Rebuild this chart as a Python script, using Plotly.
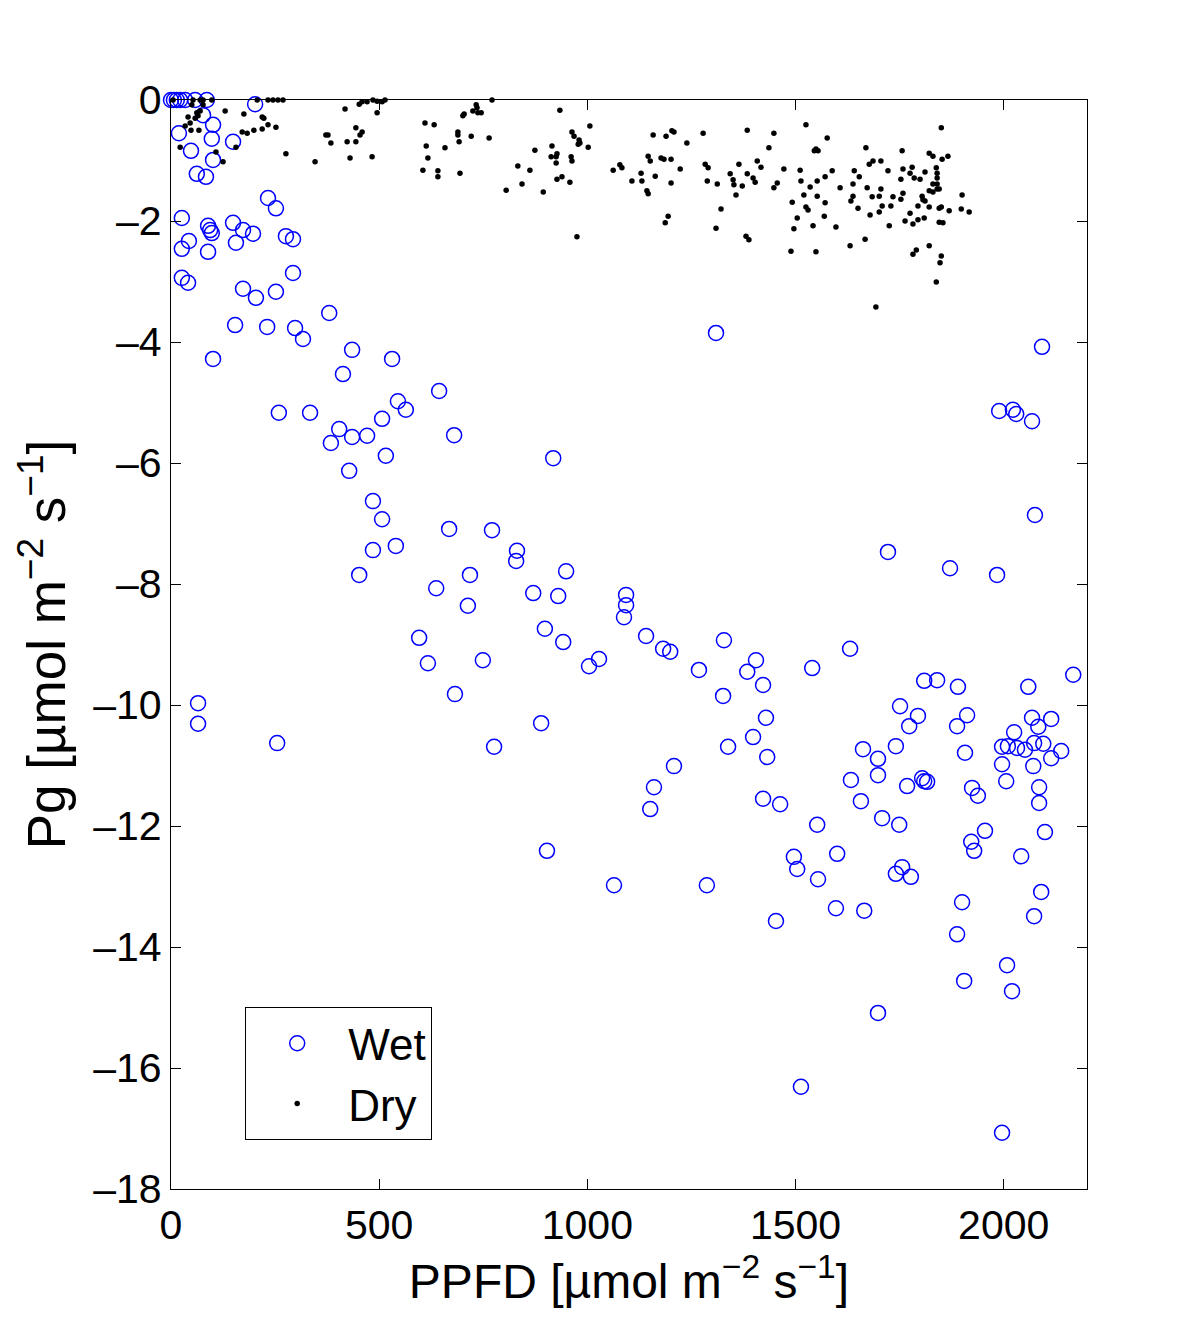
import plotly.graph_objects as go

# Wet conditions: PPFD vs gross photosynthesis
wet_ppfd = [0, 7, 14, 22, 34, 58, 86, 202, 77, 101, 19, 98, 149, 48, 101, 62, 84, 233, 252, 26,
            89, 94, 98, 149, 173, 197, 43, 26, 89, 156, 276, 293, 293, 26, 41, 173, 204, 252, 380, 154,
            231, 298, 317, 435, 531, 101, 413, 644, 545, 564, 259, 334, 507, 404, 435, 471, 384, 680, 516, 428,
            918, 485, 507, 485, 540, 452, 637, 668, 771, 831, 829, 718, 949, 870, 930, 1093, 1093, 1088, 713, 596,
            617, 749, 682, 898, 942, 1004, 1028, 1141, 1182, 1199, 1268, 1328, 1405, 1384, 1422, 1326, 1429, 1398, 1338, 1432,
            889, 776, 1208, 1160, 1151, 1422, 1463, 903, 1064, 1287, 1496, 1504, 1309, 2092, 1989, 2022, 2030, 2068, 2075, 1722,
            1871, 1984, 1540, 1631, 1809, 1840, 1890, 2059, 2167, 1751, 1794, 1773, 1888, 1912, 2068, 2114, 2083, 2025, 2073, 2095,
            1996, 2010, 2032, 2051, 2138, 2114, 1996, 2071, 1907, 1741, 1662, 1698, 1698, 1633, 1804, 1809, 1816, 1768, 2006, 1924,
            1938, 2085, 2085, 1657, 1708, 1749, 1552, 1955, 1922, 1929, 2099, 2042, 1600, 1554, 1756, 1741, 1777, 1900, 2090, 1597,
            1665, 1453, 2073, 1888, 2008, 1905, 2020, 1698, 1513, 1996, 65, 65, 255]
wet_pg = [0, 0, 0, 0, 0, 0, 0, -0.07, -0.25, -0.41, -0.55, -0.64, -0.69, -0.84, -0.99, -1.22, -1.27, -1.62, -1.79, -1.95,
          -2.08, -2.15, -2.20, -2.03, -2.15, -2.21, -2.33, -2.46, -2.51, -2.36, -2.25, -2.30, -2.86, -2.94, -3.02, -3.12, -3.27, -3.17, -3.52, -3.72,
          -3.75, -3.77, -3.95, -4.13, -4.28, -4.28, -4.53, -4.81, -4.98, -5.12, -5.17, -5.17, -5.27, -5.44, -5.57, -5.55, -5.67, -5.54, -5.88, -6.13,
          -5.92, -6.63, -6.93, -7.44, -7.37, -7.85, -8.07, -7.09, -7.11, -7.45, -7.62, -7.85, -7.79, -8.15, -8.20, -8.18, -8.35, -8.55, -8.36, -8.89,
          -9.31, -9.26, -9.82, -8.74, -8.96, -9.36, -9.24, -8.86, -9.07, -9.12, -9.42, -8.93, -9.26, -9.45, -9.67, -9.85, -10.21, -10.53, -10.69, -10.86,
          -10.30, -10.69, -11.01, -11.36, -11.72, -11.55, -11.64, -12.41, -12.98, -12.98, -12.51, -12.71, -3.85, -4.08, -5.14, -5.12, -5.19, -5.31, -6.86, -7.47,
          -7.74, -7.85, -9.39, -9.07, -9.60, -9.59, -9.70, -9.70, -9.50, -10.02, -10.18, -10.35, -10.35, -10.17, -10.21, -10.23, -10.36, -10.45, -10.63, -10.64,
          -10.69, -10.68, -10.71, -10.74, -10.76, -10.88, -10.98, -11.01, -10.79, -10.68, -10.73, -10.89, -11.16, -11.24, -11.21, -11.26, -11.27, -11.34, -11.26, -11.37,
          -11.50, -11.36, -11.62, -11.59, -11.87, -11.98, -11.98, -12.08, -12.26, -12.41, -12.10, -12.50, -12.46, -12.88, -12.68, -12.79, -12.84, -13.26, -13.09, -13.36,
          -13.40, -13.57, -13.49, -13.79, -14.30, -14.56, -14.73, -15.09, -16.31, -17.07, -9.97, -10.31, -10.63]

# Dry conditions
dry_ppfd = [5, 53, 70, 77, 98, 50, 77, 62, 70, 58, 65, 41, 34, 46, 48, 67, 22, 108, 125, 130,
            175, 207, 219, 223, 233, 252, 171, 183, 199, 219, 156, 233, 245, 257, 269, 276, 346, 372, 377, 384,
            418, 423, 430, 444, 444, 454, 459, 452, 459, 471, 485, 495, 507, 514, 495, 483, 610, 632, 613, 617,
            658, 605, 641, 641, 694, 689, 689, 692, 721, 764, 701, 704, 733, 735, 725, 737, 745, 771, 934, 1006,
            1002, 963, 968, 980, 982, 978, 915, 927, 925, 913, 874, 961, 963, 925, 833, 862, 939, 927, 958, 843,
            805, 894, 975, 1062, 1078, 1083, 1107, 1129, 1131, 1143, 1146, 1146, 1151, 1158, 1163, 1177, 1184, 1189, 1203, 1208,
            1201, 1201, 1194, 1187, 1223, 1239, 1278, 1283, 1290, 1288, 1312, 1321, 1309, 1343, 1350, 1352, 1372, 1357, 1364, 1384,
            1384, 1398, 1403, 1408, 1417, 1436, 1448, 1448, 1456, 1381, 1388, 1472, 1492, 1489, 1496, 1504, 1511, 1513, 1520, 1525,
            1525, 1530, 1535, 1542, 1545, 1549, 1554, 1549, 1552, 1552, 1569, 1571, 1571, 1576, 1588, 1597, 1607, 1631, 1633, 1638,
            1638, 1641, 1650, 1653, 1667, 1669, 1672, 1677, 1686, 1679, 1684, 1693, 1701, 1701, 1705, 1705, 1708, 1722, 1725, 1729,
            1734, 1753, 1753, 1756, 1758, 1758, 1763, 1775, 1775, 1780, 1782, 1785, 1799, 1782, 1790, 1794, 1794, 1804, 1806, 1811,
            1811, 1809, 1821, 1821, 1821, 1830, 1821, 1830, 1840, 1845, 1830, 1840, 1838, 1840, 1840, 1845, 1850, 1845, 1854, 1850,
            1847, 1838, 1850, 1852, 1866, 1869, 1898, 1900, 1917]
dry_pg = [0, 0, 0, 0, 0, -0.08, -0.08, -0.21, -0.18, -0.30, -0.26, -0.28, -0.43, -0.38, -0.50, -0.50, -0.78, -0.86, -1.02, -0.18,
          -0.23, 0, -0.28, -0.30, -0.41, -0.45, -0.53, -0.55, -0.50, -0.48, -0.78, 0, 0, 0, 0, -0.89, -1.02, -0.58, -0.58, -0.71,
          -0.15, -0.69, -0.96, -0.46, -0.69, -0.58, -0.53, -0.07, -0.03, -0.03, 0, -0.02, -0.03, 0, -0.21, -0.94, -0.38, -0.41, -0.76, -0.96,
          -0.79, -1.16, -1.17, -1.27, -1.21, -0.53, -0.58, -0.69, -0.60, -0.63, -0.26, -0.23, -0.08, -0.13, -0.18, -0.21, -0.21, 0, -0.17, -0.43,
          -0.78, -0.53, -0.60, -0.66, -0.71, -0.73, -0.76, -0.89, -0.94, -0.94, -0.83, -0.94, -1.01, -1.04, -1.09, -1.16, -1.27, -1.31, -1.36, -1.39,
          -1.49, -1.52, -2.26, -1.16, -1.07, -1.12, -1.34, -1.21, -1.34, -1.50, -1.55, -0.93, -1.01, -0.58, -1.26, -0.96, -0.98, -0.60, -0.51, -0.53,
          -0.98, -1.37, -1.92, -2.03, -1.14, -0.71, -0.55, -1.06, -1.12, -1.34, -1.39, -1.80, -2.12, -1.22, -1.32, -1.40, -1.42, -1.57, -1.06, -0.50,
          -1.22, -1.29, -1.36, -1.01, -1.11, -0.79, -0.55, -1.45, -1.37, -2.25, -2.31, -1.14, -1.69, -2.50, -2.13, -1.95, -1.16, -1.34, -1.57, -0.41,
          -1.77, -1.82, -1.44, -2.08, -0.84, -0.81, -0.84, -2.51, -1.34, -1.59, -1.92, -1.70, -1.27, -0.63, -1.17, -2.10, -1.45, -2.41, -1.67, -1.39,
          -1.59, -1.17, -1.79, -1.27, -2.30, -0.79, -1.45, -1.06, -1.01, -1.90, -1.60, -3.42, -1.59, -1.85, -1.01, -1.47, -1.75, -1.17, -2.08, -1.75,
          -1.60, -1.31, -1.64, -0.84, -1.14, -1.54, -2.00, -1.21, -1.87, -1.11, -2.05, -1.29, -1.31, -2.55, -2.48, -1.75, -1.98, -1.59, -1.65, -1.67,
          -1.19, -1.95, -2.41, -1.77, -0.88, -0.93, -1.50, -1.52, -1.47, -1.47, -1.39, -1.39, -1.12, -1.21, -1.29, -1.79, -1.77, -2.02, -2.03, -2.58,
          -2.69, -3.01, -0.46, -0.98, -0.93, -1.83, -1.80, -1.57, -1.85]

x_ticks = [0, 500, 1000, 1500, 2000]
y_ticks = [0, -2, -4, -6, -8, -10, -12, -14, -16, -18]

font = "Liberation Sans, Arial, Helvetica, sans-serif"

fig = go.Figure()
fig.add_trace(go.Scatter(
    x=wet_ppfd, y=wet_pg, mode="markers", name="Wet", cliponaxis=False,
    marker=dict(symbol="circle-open", size=15, color="#0000ff", line=dict(width=1.5, color="#0000ff")),
))
fig.add_trace(go.Scatter(
    x=dry_ppfd, y=dry_pg, mode="markers", name="Dry", cliponaxis=False,
    marker=dict(symbol="circle", size=5.5, color="black"),
))

axis_style = dict(
    showline=True, linecolor="black", linewidth=1.3, mirror="ticks",
    ticks="inside", ticklen=10, tickwidth=1.3, tickcolor="black",
    showgrid=False, zeroline=False,
    tickfont=dict(family=font, size=41, color="black"),
)

fig.update_xaxes(range=[0, 2200], tickvals=x_ticks, ticktext=[str(v) for v in x_ticks],
                 title=dict(text="PPFD [µmol m<sup>−2</sup> s<sup>−1</sup>]",
                            font=dict(family=font, size=48, color="black"), standoff=8),
                 **axis_style)
fig.update_yaxes(range=[-18, 0], tickvals=y_ticks,
                 ticktext=[str(v).replace("-", "–") for v in y_ticks],
                 title=dict(text="Pg [µmol m<sup>−2</sup> s<sup>−1</sup>]",
                            font=dict(family=font, size=53, color="black"), standoff=10),
                 **axis_style)

fig.update_layout(
    width=1200, height=1339,
    margin=dict(l=163, r=121, t=92, b=158),
    paper_bgcolor="white", plot_bgcolor="white",
    font=dict(family=font, color="black"),
    legend=dict(x=0.081, y=0.167, xanchor="left", yanchor="top",
                bgcolor="white", bordercolor="black", borderwidth=1,
                font=dict(family=font, size=44, color="black"),
                itemsizing="trace", itemwidth=92),
)

fig.write_html("out.html")
